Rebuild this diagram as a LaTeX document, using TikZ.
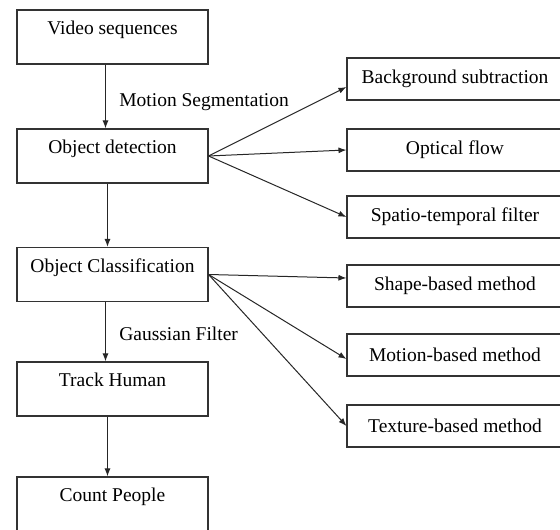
\documentclass[tikz,border=0pt]{standalone}
\usepackage{fontspec}
\setmainfont{Liberation Serif}
\usetikzlibrary{arrows.meta}
\tikzset{
    leftbox/.style={draw=black!80, line width=1.1pt, minimum width=191pt, inner xsep=0pt, inner ysep=5pt, text height=20pt, text depth=24pt},
    rightbox/.style={draw=black!80, line width=1.1pt, minimum width=216pt, minimum height=42pt},
    flow/.style={->, draw=black!85, line width=1pt}
}
\begin{document}
\begin{tikzpicture}[x=1pt, y=1pt, >={Latex[length=8pt,width=6pt]}, font=\fontsize{19.5}{23}\selectfont]
        \useasboundingbox (0,0) rectangle (560,530);
        \node [leftbox] (video) at (112.5,493) {Video sequences};
        \node [leftbox] (detect) at (112.5,374) {Object detection};
        \node [leftbox] (classify) at (112.5,255.5) {Object Classification};
        \node [leftbox] (track) at (112.5,141) {Track Human};
        \node [leftbox] (count) at (112.5,26) {Count People};
        \node [rightbox] (bgsub) at (455,451) {Background subtraction};
        \node [rightbox] (optflow) at (455,380) {Optical flow};
        \node [rightbox] (spatio) at (455,313) {Spatio-temporal filter};
        \node [rightbox] (shape) at (455,244) {Shape-based method};
        \node [rightbox] (motion) at (455,175) {Motion-based method};
        \node [rightbox] (texture) at (455,104) {Texture-based method};
        \draw [flow] ([xshift=-7pt]video.south) -- node [right, xshift=10pt, yshift=-6pt] {Motion Segmentation} ([xshift=-7pt]detect.north);
        \draw [flow] ([xshift=-5pt]detect.south) -- ([xshift=-5pt]classify.north);
        \draw [flow] ([xshift=-7pt]classify.south) -- node [right, xshift=10pt, yshift=-2pt] {Gaussian Filter} ([xshift=-7pt]track.north);
        \draw [flow] ([xshift=-5pt]track.south) -- ([xshift=-5pt]count.north);
        \draw [flow] (detect.east) -- ([yshift=-8pt]bgsub.west);
        \draw [flow] (detect.east) -- (optflow.west);
        \draw [flow] (detect.east) -- (spatio.west);
        \draw [flow] (classify.east) -- ([yshift=8pt]shape.west);
        \draw [flow] (classify.east) -- ([yshift=-4pt]motion.west);
        \draw [flow] (classify.east) -- (texture.west);
    \end{tikzpicture}
\end{document}
